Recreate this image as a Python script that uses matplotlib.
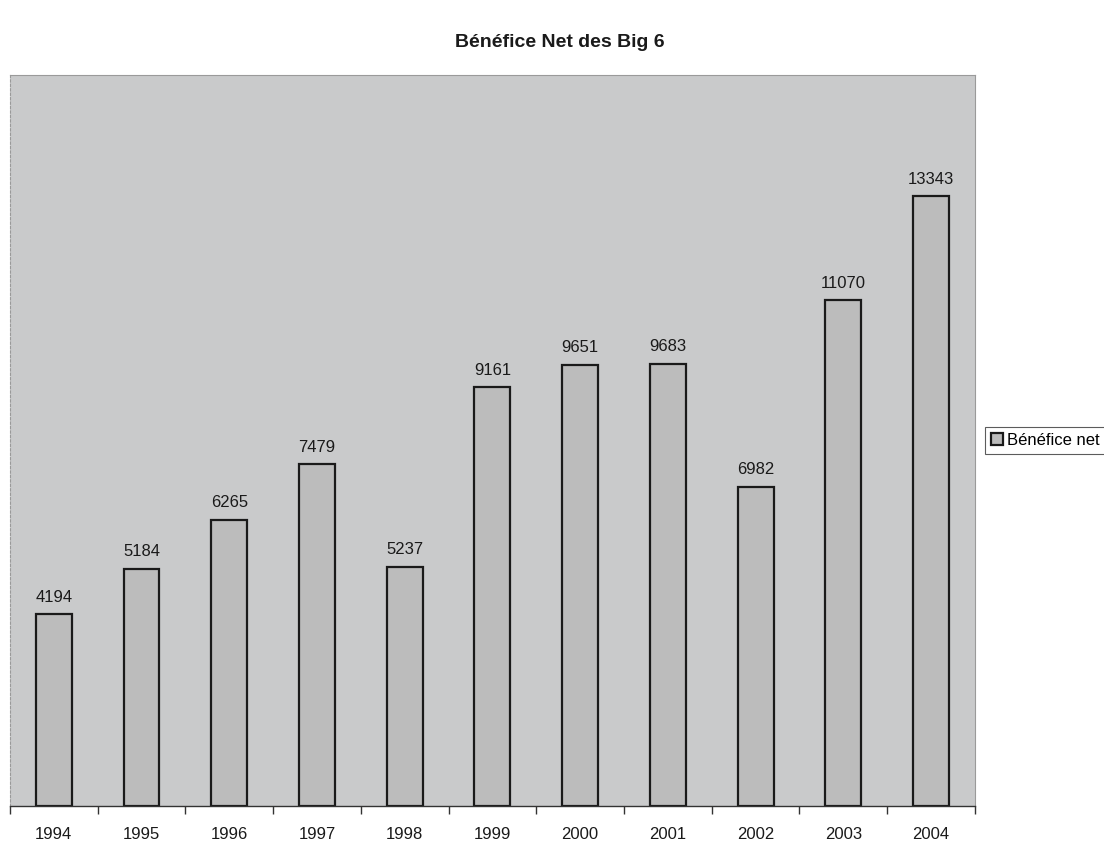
import matplotlib.pyplot as plt
import numpy as np

annees = ['1994', '1995', '1996', '1997', '1998', '1999',
          '2000', '2001', '2002', '2003', '2004']
benefice_net = [4194, 5184, 6265, 7479, 5237, 9161,
                9651, 9683, 6982, 11070, 13343]

plt.rcParams['font.family'] = ['Liberation Sans', 'DejaVu Sans']

fig = plt.figure(figsize=(11.04, 8.43), dpi=100)
ax = fig.add_axes([0.009, 0.044, 0.874, 0.867])
ax.set_facecolor('#c9cacb')

x = np.arange(len(annees))
barres = ax.bar(x, benefice_net, width=0.41, color='#bcbcbc',
                edgecolor='#1a1a1a', linewidth=1.6, label='Bénéfice net')
ax.bar_label(barres, labels=[str(v) for v in benefice_net], padding=7,
             fontsize=12, color='#1a1a1a')

ax.set_xlim(-0.5, len(annees) - 0.5)
ax.set_ylim(0, 16000)
ax.set_yticks([])

# ticks between categories, labels centred under each bar
ax.set_xticks(np.arange(len(annees) + 1) - 0.5)
ax.set_xticklabels([])
ax.set_xticks(x, minor=True)
ax.set_xticklabels(annees, minor=True, fontsize=12, color='#1a1a1a')
ax.tick_params(axis='x', which='major', direction='out', length=6,
               width=1, color='#333333')
ax.tick_params(axis='x', which='minor', length=0, pad=15)

for cote in ['top', 'right', 'left']:
    ax.spines[cote].set_color('#9a9a9a')
    ax.spines[cote].set_linewidth(0.8)
ax.spines['left'].set_linestyle((0, (2, 2)))
ax.spines['bottom'].set_color('#333333')
ax.spines['bottom'].set_linewidth(1.0)

fig.text(0.507, 0.950, 'Bénéfice Net des Big 6', ha='center', va='center',
         fontsize=14, fontweight='bold', color='#1a1a1a')

leg = ax.legend(loc='center left', bbox_to_anchor=(1.011, 0.5),
                fontsize=12, frameon=True, fancybox=False,
                handlelength=0.7, handleheight=0.7, handletextpad=0.25,
                borderpad=0.35, borderaxespad=0)
leg.get_frame().set_edgecolor('#333333')
leg.get_frame().set_linewidth(0.8)

fig.savefig('out.png', dpi=100)
